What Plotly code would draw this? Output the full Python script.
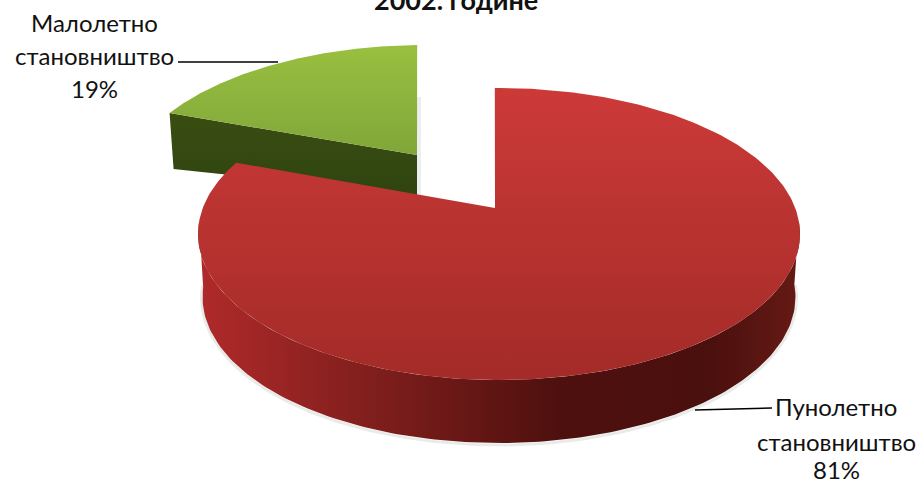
import numpy as np
import plotly.graph_objects as go

categories = ["Пунолетно", "Малолетно"]
descriptor = "становништво"
values = [81, 19]
title_text = "2002. године"
colors_top = [["#CC3A38", "#A32B28"], ["#99C03F", "#80A63A"]]
colors_side = [
    [[0, "#B02A2A"], [0.3, "#7E1E1C"], [0.6, "#4E100E"], [0.85, "#4A100E"], [1, "#661A14"]],
    [[0, "#3A4D12"], [1, "#2F4410"]],
]

FONT = "Lato"
RX, RY = 301, 146
SCALE = [300 / 291.6, 56.4 / 68.4]   # foreshortening of each slice's sweep


def arc(cx, cy, rx, ry, t0, t1, n=160):
    t = np.radians(np.linspace(t0, t1, n))
    return cx + rx * np.sin(t), cy - ry * np.cos(t)


fig = go.Figure()


def poly(x, y, grad_type, scale):
    fig.add_trace(go.Scatter(
        x=list(x), y=list(y), mode="lines", fill="toself", line=dict(width=0),
        fillgradient=dict(type=grad_type, colorscale=scale),
        hoverinfo="skip", showlegend=False))


def soft_line(x, y, width=3, color="rgba(120,130,120,0.16)"):
    fig.add_trace(go.Scatter(x=list(x), y=list(y), mode="lines",
                             line=dict(color=color, width=width),
                             hoverinfo="skip", showlegend=False))


total = sum(values)
sweep_red = values[0] / total * 360 * SCALE[0]
sweep_green = values[1] / total * 360 * SCALE[1]

# green slice
gcx, gcy = 424, 191
gx0, gy0 = arc(gcx, gcy, RX, RY, -1.3 - sweep_green, -1.3)
gax, gay = 417, 155
side_x = [gx0[0], gax, gax, gx0[0] + 4]
side_y = [gy0[0], gay, gay + 40, gy0[0] + 56]
soft_line([gax + 2, gax + 2], [gay - 58, gay + 40], 4, "rgba(120,130,140,0.14)")
poly(side_x, side_y, "vertical", [[0, colors_side[1][1][1]], [1, colors_side[1][0][1]]])
poly(np.r_[gax, gx0, gax], np.r_[gay, gy0, gay], "vertical",
     [[0, colors_top[1][1]], [1, colors_top[1][0]]])

# red slice
rcx, rcy = 499, 234
DEPTH = 63
ax_, ay_ = 495, 208
tx, ty = arc(rcx, rcy, RX, RY, 85, 275)
bx, by = arc(rcx, rcy + DEPTH, RX * 0.985, RY, 275, 85)
sx, sy = arc(rcx, rcy + DEPTH + 1, RX * 0.985 + 1, RY + 1, 275, 85)
soft_line(sx, sy)
poly(np.r_[tx, bx], np.r_[ty, by], "horizontal", colors_side[0])
ux, uy = arc(rcx, rcy, RX, RY, -0.8, -0.8 + sweep_red, 300)
poly(np.r_[ax_, ux, ax_], np.r_[ay_, uy, ay_], "vertical",
     [[0, colors_top[0][1]], [1, colors_top[0][0]]])

# leader lines
for xs, ys in [([178, 278], [62, 62]), ([695, 772], [410, 408])]:
    fig.add_trace(go.Scatter(x=xs, y=ys, mode="lines", line=dict(color="#000", width=1.6),
                             hoverinfo="skip", showlegend=False))


def label(x, y, text, size=24, bold=False, yshift=0):
    fig.add_annotation(x=x, y=y, text=f"<b>{text}</b>" if bold else text, showarrow=False,
                       xanchor="center", yanchor="middle", yshift=yshift,
                       font=dict(family=FONT, size=size, color="#111"))


label(456, 0, title_text, 27, True, yshift=1)
label(94, 22, categories[1]); label(94, 55, descriptor); label(94, 88, f"{values[1]}%")
label(836, 406, categories[0]); label(836, 441, descriptor); label(836, 469, f"{values[0]}%")

fig.update_layout(
    width=920, height=483, margin=dict(l=0, r=0, t=0, b=0),
    paper_bgcolor="white", plot_bgcolor="white",
    xaxis=dict(range=[0, 920], visible=False, fixedrange=True),
    yaxis=dict(range=[483, 0], visible=False, fixedrange=True),
)
fig.write_html("out.html", post_script="document.body.style.margin='0';",
               config={"displayModeBar": False})
